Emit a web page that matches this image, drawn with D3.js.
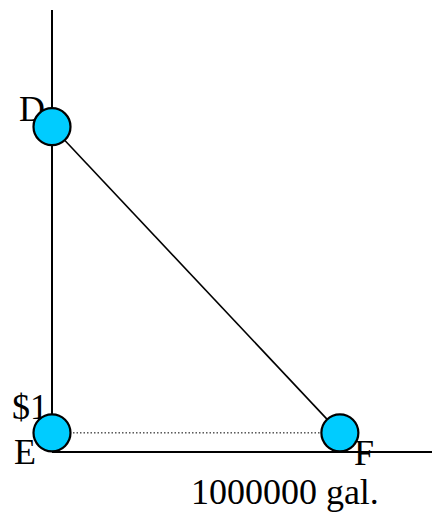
<!DOCTYPE html>
<html>
<head>
<meta charset="utf-8">
<script src="https://cdn.jsdelivr.net/npm/d3@7"></script>
<style>
  html, body { margin: 0; padding: 0; background: #fff; }
  svg { display: block; }
  text { font-family: "Liberation Serif", "Times New Roman", serif; font-size: 36px; fill: #000; }
</style>
</head>
<body>
<div id="chart"></div>
<script>
// schematic price / quantity triangle
const pointNames = ["D", "E", "F"];
const pointQty = [0, 0, 1000000];     // gallons
const pointPrice = [17, 1, 1];        // dollars (schematic)
const priceTicks = [1];
const qtyTicks = [1000000];
const qtyTickLabel = "1000000 gal.";

const W = 432, H = 513;
const xScale = d3.scaleLinear().domain([0, 1320000]).range([52, 432]);
const yScale = d3.scaleLinear().domain([0, 23.1]).range([452, 10]);

const pts = pointNames.map((n, i) => ({ name: n, q: pointQty[i], p: pointPrice[i] }));
const byName = Object.fromEntries(pts.map((d) => [d.name, d]));

const svg = d3.select("#chart").append("svg").attr("width", W).attr("height", H);

// labels sitting under the markers
const labelOff = { D: [-33, -6], E: [-38, 31], F: [14, 32] };
svg.append("g").selectAll("text.pt-label")
  .data(pts.filter((d) => d.name !== "F"))
  .join("text")
    .attr("class", "pt-label")
    .attr("x", (d) => xScale(d.q) + labelOff[d.name][0])
    .attr("y", (d) => yScale(d.p) + labelOff[d.name][1])
    .text((d) => d.name);

// price tick label
svg.append("g").selectAll("text")
  .data(priceTicks)
  .join("text")
    .attr("x", xScale(0) - 40)
    .attr("y", (d) => yScale(d) - 14)
    .text((d) => "$" + d);

// quantity tick label
svg.append("g").selectAll("text")
  .data(qtyTicks)
  .join("text")
    .attr("x", (d) => xScale(d) - 149)
    .attr("y", 504)
    .text(qtyTickLabel);

// axes
const [x0, x1] = xScale.range();
const [y0, y1] = yScale.range();
svg.append("line")
  .attr("x1", x0).attr("x2", x0).attr("y1", y0).attr("y2", y1)
  .attr("stroke", "#000").attr("stroke-width", 2);
svg.append("line")
  .attr("x1", x0).attr("x2", x1).attr("y1", y0).attr("y2", y0)
  .attr("stroke", "#000").attr("stroke-width", 2);

// dotted guide E -> F
svg.append("line")
  .attr("x1", xScale(byName.E.q)).attr("x2", xScale(byName.F.q))
  .attr("y1", yScale(byName.E.p)).attr("y2", yScale(byName.F.p))
  .attr("stroke", "#000").attr("stroke-width", 1)
  .attr("stroke-dasharray", "1.5,2");

// D -> F line
svg.append("line")
  .attr("x1", xScale(byName.D.q)).attr("x2", xScale(byName.F.q))
  .attr("y1", yScale(byName.D.p)).attr("y2", yScale(byName.F.p))
  .attr("stroke", "#000").attr("stroke-width", 1.6);

// markers
svg.append("g").selectAll("circle")
  .data(pts)
  .join("circle")
    .attr("cx", (d) => xScale(d.q))
    .attr("cy", (d) => yScale(d.p))
    .attr("r", 18.5)
    .attr("fill", "#00CCFF")
    .attr("stroke", "#000")
    .attr("stroke-width", 2.2);

// F sits on top of its marker
svg.append("g").selectAll("text.pt-label-top")
  .data(pts.filter((d) => d.name === "F"))
  .join("text")
    .attr("class", "pt-label-top")
    .attr("x", (d) => xScale(d.q) + labelOff[d.name][0])
    .attr("y", (d) => yScale(d.p) + labelOff[d.name][1])
    .text((d) => d.name);
</script>
</body>
</html>
